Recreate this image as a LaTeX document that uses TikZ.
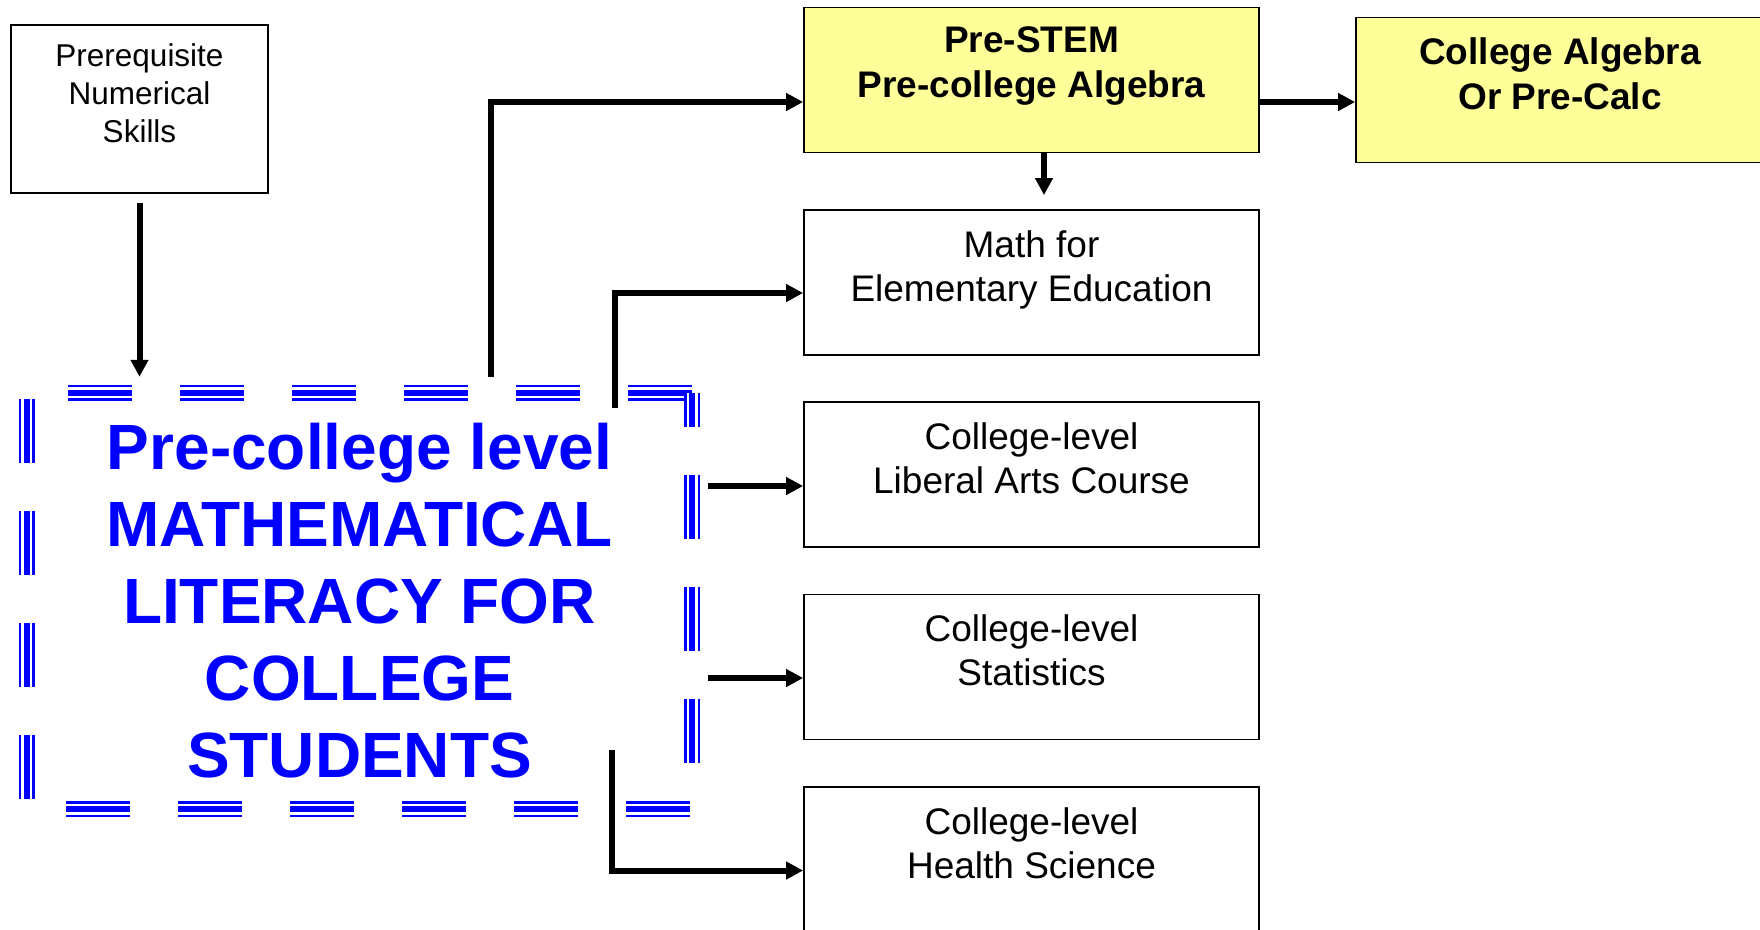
\documentclass[tikz,border=0pt]{standalone}
\usepackage{fontspec}
\setmainfont{Liberation Sans}
\usetikzlibrary{arrows.meta,positioning}
\definecolor{boxyellow}{RGB}{255,255,153}
\tikzset{
	course/.style={draw, line width=1.8pt, minimum width=455pt, minimum height=145pt, inner sep=0pt},
	coursetxt/.style={inner sep=0pt, align=center, font=\fontsize{37}{44}\selectfont},
	link/.style={line width=6pt, -{Triangle[length=17pt,width=17pt]}},
	tripleline/.style={blue, line width=15.7pt, dash pattern=on 64pt off 48pt, dash phase=#1,
		postaction={draw=white, line width=11pt, dash pattern=on 64pt off 48pt, dash phase=#1},
		postaction={draw=blue, line width=5.5pt, dash pattern=on 64pt off 48pt, dash phase=#1}}
}

\begin{document}
\begin{tikzpicture}[x=1pt, y=-1pt]
			%%%%% START %%%%%
			\useasboundingbox (0,0) rectangle (1760,929);
			
			\node[course, minimum width=257pt, minimum height=168pt] (prereq) at (139.5,109) {};
			\node[coursetxt, font=\fontsize{31.5}{38}\selectfont, below=19pt of prereq.north] {Prerequisite\\Numerical\\Skills};
			
			% the literacy course, framed by triple dashed lines
			\node[minimum width=665pt, minimum height=416pt, inner sep=0pt, align=center, text=blue, font=\fontsize{64}{77}\selectfont\bfseries] (lit) at (359.5,601) {Pre-college level\\MATHEMATICAL\\LITERACY FOR\\COLLEGE\\STUDENTS};
			\draw[tripleline=71] (lit.north west) -- (lit.north east);
			\draw[tripleline=73] (lit.south west) -- (lit.south east);
			\draw[tripleline=106] (lit.north west) -- (lit.south west);
			\draw[tripleline=30] (lit.north east) -- (lit.south east);
			
			\node[course, fill=boxyellow] (prestem) at (1031.5,80) {};
			\node[coursetxt, font=\fontsize{37}{45}\selectfont\bfseries, below=20pt of prestem.north] {Pre-STEM\\Pre-college Algebra};
			
			\node[course, fill=boxyellow, minimum width=408pt] (calg) at (1560,90) {};
			\node[coursetxt, font=\fontsize{37}{45}\selectfont\bfseries, below=21pt of calg.north] {College Algebra\\Or Pre-Calc};
			
			\node[course] (math) at (1031.5,282.5) {};
			\node[coursetxt, below=21pt of math.north] {Math for\\Elementary Education};
			
			\node[course] (liberal) at (1031.5,474.5) {};
			\node[coursetxt, below=21pt of liberal.north] {College-level\\Liberal Arts Course};
			
			\node[course] (stats) at (1031.5,667) {};
			\node[coursetxt, below=21pt of stats.north] {College-level\\Statistics};
			
			\node[course] (health) at (1031.5,859.5) {};
			\node[coursetxt, below=21pt of health.north] {College-level\\Health Science};
			
			% connectors
			\draw[link, shorten <=9pt, shorten >=16pt] (prereq.south) -- (prereq.south |- lit.north);
			\draw[link] ([xshift=131.5pt, yshift=16pt]lit.north) |- ([yshift=-22pt]prestem.west);
			\draw[link, shorten >=14pt] ([xshift=12.5pt]prestem.south) -- ([xshift=12.5pt]math.north);
			\draw[link] ([yshift=-22pt]prestem.east) -- ([yshift=-12pt]calg.west);
			\draw[link] ([xshift=255.5pt, yshift=-15pt]lit.north) |- ([yshift=-10.5pt]math.west);
			\draw[link, shorten <=16pt] ([yshift=-11.5pt]lit.east |- liberal.west) -- ([yshift=-11.5pt]liberal.west);
			\draw[link, shorten <=16pt] ([yshift=-11pt]lit.east |- stats.west) -- ([yshift=-11pt]stats.west);
			\draw[link] ([xshift=252.5pt, yshift=59pt]lit.south) |- ([yshift=-11pt]health.west);
			
			%%%%% END %%%%%
\end{tikzpicture}
\end{document}
